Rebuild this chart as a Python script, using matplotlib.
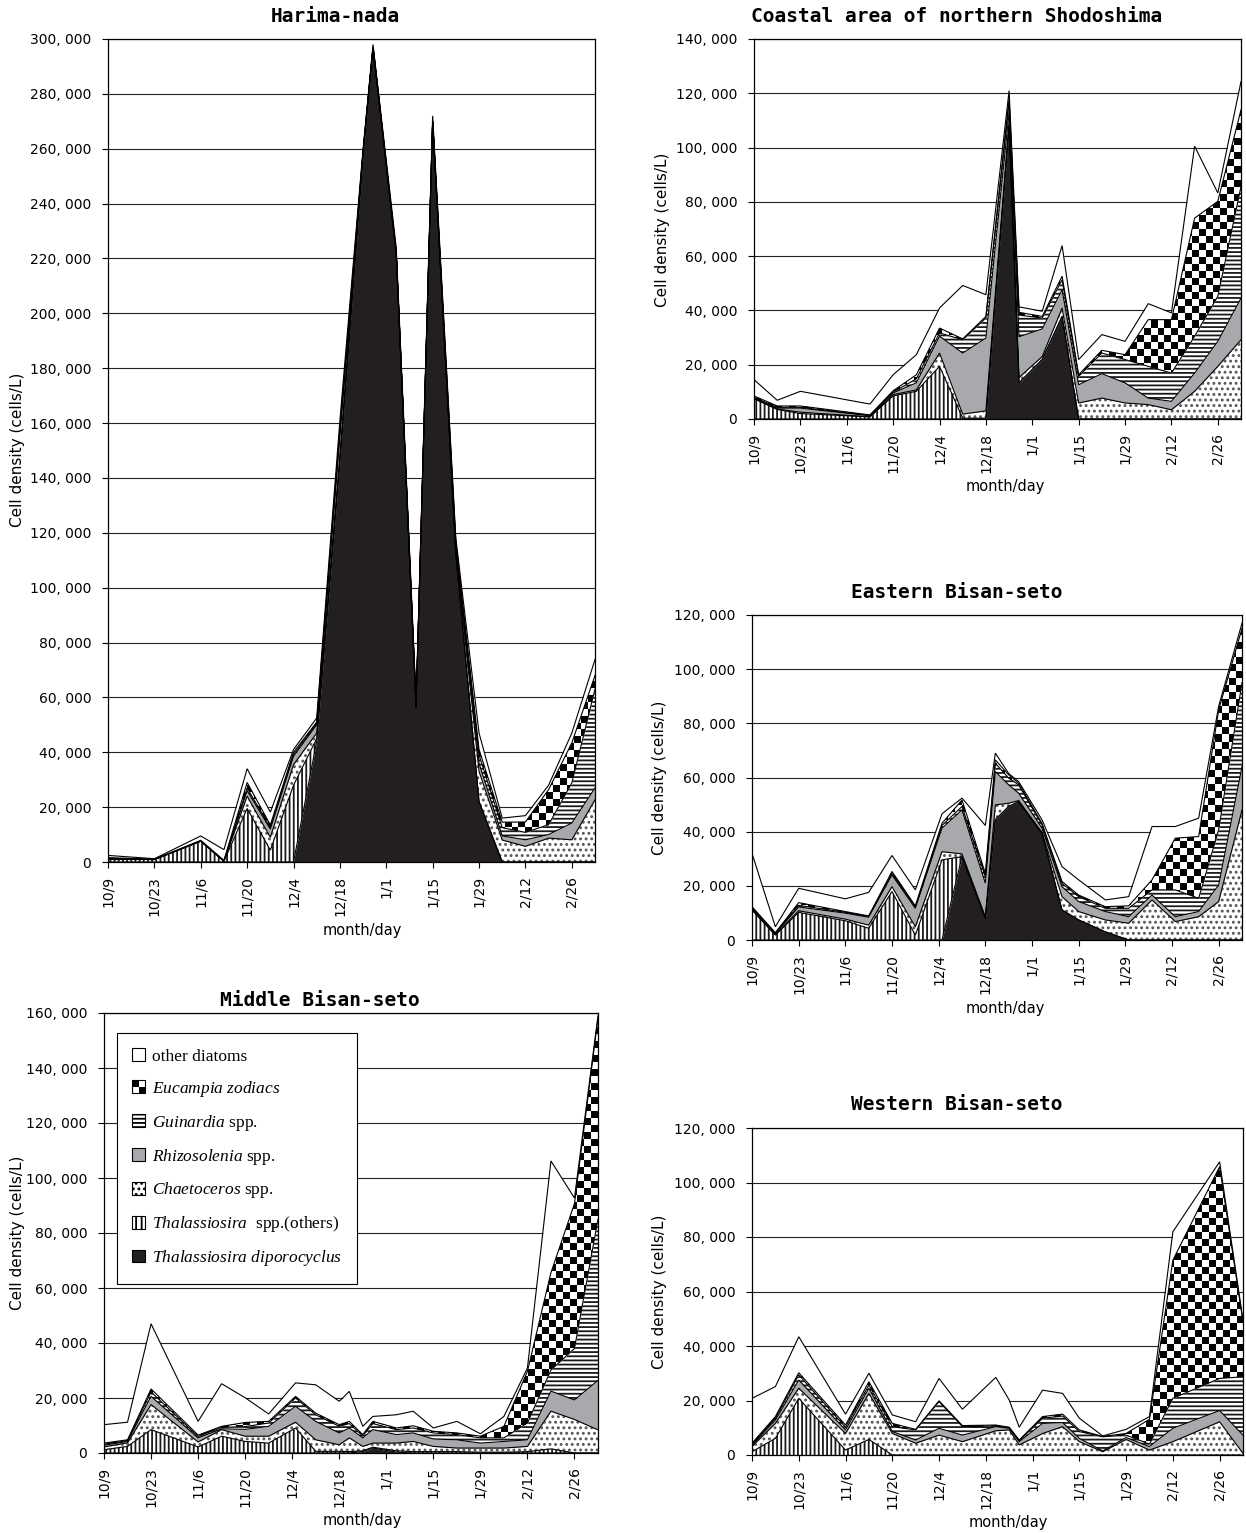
import numpy as np
import matplotlib
matplotlib.use("Agg")
import matplotlib.pyplot as plt
from matplotlib.patches import Patch, Rectangle
from matplotlib.legend_handler import HandlerBase
from matplotlib.ticker import FixedLocator, FuncFormatter

plt.rcParams["font.family"] = ["DejaVu Sans"]
plt.rcParams["hatch.linewidth"] = 1.3
plt.rcParams["mathtext.fontset"] = "custom"
plt.rcParams["mathtext.rm"] = "Liberation Serif"
plt.rcParams["mathtext.it"] = "Liberation Serif:italic"
plt.rcParams["mathtext.bf"] = "Liberation Serif:bold"

W, H = 1246, 1533

# ---------------- x axis (days after 10/9) ----------------
tick_days = [0, 14, 28, 42, 56, 70, 84, 98, 112, 126, 140]
tick_labels = ["10/9", "10/23", "11/6", "11/20", "12/4", "12/18",
               "1/1", "1/15", "1/29", "2/12", "2/26"]
x_end = 147

series_names = ["Thalassiosira diporocyclus", "Thalassiosira spp.(others)",
                "Chaetoceros spp.", "Rhizosolenia spp.", "Guinardia spp.",
                "Eucampia zodiacs", "other diatoms"]

# ---------------- data (1,000 cells/L) ----------------
# Harima-nada
days_h = [0, 14, 28, 35, 42, 49, 56, 63, 70, 77, 80, 87, 93, 98, 105, 112, 119, 126, 133, 140, 147]
tdip_h = [0, 0, 0, 0, 0, 0, 0, 44, 146, 258, 297, 222, 56, 270, 112, 22, 0, 0, 0, 0, 0]
toth_h = [0.9, 0.9, 7.6, 0.3, 19.5, 4.3, 28, 1, 0, 0, 0, 0, 0, 0, 0, 0, 0, 0, 0, 0, 0]
chae_h = [0.2, 0, 0, 0, 4.5, 4.7, 7.5, 2, 2, 1, 0, 0, 0.5, 0, 1, 11, 8, 5.7, 8.7, 8.1, 22.7]
rhiz_h = [0.1, 0, 0, 0, 2, 3, 3, 3, 7, 0, 0, 0, 0.5, 0, 1.5, 3, 1.5, 2.4, 1.3, 6.1, 4.3]
guin_h = [0.1, 0, 0, 0, 1, 0.5, 0.7, 0.5, 2, 0, 0, 0, 0, 0, 1, 3, 3, 2.7, 3.6, 14.6, 36]
euca_h = [0.3, 0.1, 0.3, 0.3, 2, 1, 0.8, 0.5, 1, 0, 0, 0, 0, 0, 1, 2, 2, 3.8, 12.8, 14.6, 5]
othr_h = [0.8, 0.2, 1.6, 3.9, 5, 4.7, 1, 1.5, 3, 1, 1, 2, 2, 2, 1.5, 6, 1.5, 2.3, 1.6, 3.6, 5.8]

# Coastal area of northern Shodoshima
days_c = [0, 7, 14, 35, 42, 49, 56, 63, 70, 77, 80, 87, 93, 98, 105, 112, 119, 126, 133, 140, 147]
tdip_c = [0, 0, 0, 0, 0, 0, 0, 0, 0, 108, 13.3, 21.9, 37.8, 0, 0, 0, 0, 0, 0, 0, 0]
toth_c = [7.5, 3.5, 2, 0.8, 8.5, 10.2, 19.4, 0.3, 0.3, 0, 0, 0, 0, 0, 0, 0, 0, 0, 0, 0, 0]
chae_c = [0, 0.2, 0.5, 0, 0.5, 0.5, 4.9, 1.5, 2.7, 1, 2, 1.1, 3.1, 5.9, 7.7, 5.9, 5.3, 3.4, 10.2, 19.4, 29.2]
rhiz_c = [0.3, 0.3, 1.5, 0.4, 0.6, 2.6, 6.2, 22.5, 26.8, 4, 15, 10.2, 6.7, 6.7, 9, 7.4, 2.4, 3.1, 6.7, 9.2, 15.3]
guin_c = [0.2, 0.3, 0.3, 0.1, 0.3, 1.5, 1.2, 4.9, 7.4, 4, 8, 4, 3.7, 3.1, 7.6, 8.6, 11.7, 10.4, 13.6, 16.6, 41.1]
euca_c = [0.5, 0.5, 0.5, 0.2, 0.5, 1.5, 1.8, 0.3, 0.6, 1, 1, 0.6, 1.3, 0.6, 1, 1.8, 17.2, 19.7, 43.5, 35, 28.3]
othr_c = [6, 2.1, 5.4, 4, 5.9, 7.4, 7.4, 19.7, 8, 3, 2, 1.9, 11.3, 5.6, 5.8, 4.9, 5.9, 2.5, 26.5, 3.1, 10.4]

# Eastern Bisan-seto
days_e = [0, 7, 14, 28, 35, 42, 49, 57, 63, 70, 73, 77, 80, 87, 93, 98, 106, 113, 120, 127, 134, 140, 147]
tdip_e = [0, 0, 0, 0, 0, 0, 0, 0, 30.8, 8, 44.4, 49.3, 51.1, 39.4, 11.1, 7.4, 3, 0, 0, 0, 0, 0, 0]
toth_e = [11, 1.8, 10.2, 7.1, 4.3, 17.9, 1.8, 29.6, 0, 0, 0, 0, 0, 0, 0, 0, 0, 0, 0, 0, 0, 0, 0]
chae_e = [0.3, 0.2, 0.6, 0.6, 1.2, 1.8, 3.1, 3, 1, 0.6, 5.5, 1.2, 0.4, 0.3, 4.9, 3.1, 4.4, 6.2, 14.8, 6.8, 8.6, 14.2, 48]
rhiz_e = [0.3, 0.3, 1.4, 2.2, 2.9, 4.3, 6.8, 8.7, 16.2, 12.4, 12.3, 6.8, 2.7, 1.6, 3.7, 3.7, 3.1, 2.4, 1.8, 1.8, 1.9, 6.1, 16]
guin_e = [0.3, 0.2, 0.6, 0.3, 0.3, 0.6, 0.5, 1, 1.3, 2.4, 3.1, 2.5, 3.1, 1.2, 1.2, 1.8, 1.2, 3.1, 1.9, 9.9, 4.9, 20.4, 31]
euca_e = [0.4, 0.2, 1, 0.3, 0.2, 0.7, 0.4, 0.8, 2.4, 1.2, 1.2, 1.2, 0.6, 0.6, 0.7, 0.6, 0.6, 0.9, 3.7, 19.1, 22.8, 44.3, 20]
othr_e = [19.7, 2.2, 5.3, 4.7, 8.7, 5.9, 5.9, 3.5, 0.7, 17.7, 2.5, 0.5, 0.6, 1.3, 5.5, 5.6, 2.5, 3.4, 19.7, 4.3, 6.8, 1.3, 2]

# Middle Bisan-seto
days_m = [0, 7, 14, 28, 35, 42, 49, 57, 63, 70, 73, 77, 80, 87, 92, 98, 105, 112, 119, 126, 133, 140, 147]
tdip_m = [0, 0, 0, 0, 0, 0, 0, 0, 0, 0, 0, 0.5, 1.8, 0.3, 0, 0, 0, 0, 0, 0, 0, 0, 0]
toth_m = [1.2, 2.4, 8.5, 2.2, 6.1, 4.2, 3.6, 9.1, 0.6, 0.6, 0.5, 0.3, 0.3, 0.5, 0.5, 0.5, 0.5, 0.3, 0.3, 0.5, 1.5, 0, 0]
chae_m = [1, 1.3, 9.1, 1.8, 2.4, 1.9, 2.5, 2.1, 4.2, 2.4, 5, 1.6, 1.5, 2.8, 3.7, 1.9, 1.3, 1.5, 1.5, 1.9, 13.7, 12.2, 8.4]
rhiz_m = [0.6, 0.5, 3, 1.5, 0.3, 2.5, 3.6, 5.8, 6.7, 4.3, 3.6, 3.1, 4.9, 3.1, 3.1, 2.7, 3, 1.8, 2.4, 2.4, 7.3, 7.1, 18]
guin_m = [0.4, 0.3, 1.6, 0.5, 0.5, 1, 1.2, 3, 2.4, 2.4, 1.6, 0.7, 2.2, 1.8, 1.8, 2.2, 1.9, 1.9, 1.3, 6.1, 7.7, 18.7, 58.6]
euca_m = [0.4, 0.3, 1.1, 0.5, 0.4, 1.5, 0.6, 0.6, 0.6, 0.6, 0.8, 0.5, 0.8, 0.6, 0.8, 0.6, 0.6, 0.6, 4.2, 18.8, 35.4, 52.7, 73.3]
othr_m = [6.7, 6.4, 23.7, 5, 15.5, 9, 2.7, 4.9, 10.3, 8.5, 10.9, 3, 1.8, 4.8, 5.3, 1.2, 4.2, 0.9, 3.6, 1.2, 40.6, 2, 0.7]

# Western Bisan-seto
days_w = [0, 7, 14, 28, 35, 42, 49, 56, 63, 73, 77, 80, 87, 93, 98, 105, 112, 119, 126, 140, 147]
tdip_w = [0, 0, 0, 0, 0, 0, 0, 0, 0, 0, 0, 0, 0, 0, 0, 0, 0, 0, 0, 0, 0]
toth_w = [1.2, 6.1, 20.8, 1.8, 5.7, 0, 0, 0, 0, 0, 0, 0, 0, 0, 0, 0, 0, 0, 0, 0, 0]
chae_w = [1.9, 5.5, 3.7, 6.1, 16.9, 7.9, 4.3, 7.3, 4.9, 8.9, 9.2, 3.7, 7.9, 10.4, 4.9, 1.2, 5.7, 1.8, 4.9, 12.2, 0.6]
rhiz_w = [0.4, 1.2, 3, 1.3, 1.9, 0.7, 1.2, 2.5, 2.4, 1.5, 0.6, 1.2, 3.7, 1.5, 1.2, 0.3, 0.7, 1.3, 4.9, 4.1, 6.7]
guin_w = [0.3, 0.6, 1.9, 1, 1.2, 1.8, 3.7, 9.8, 3.1, 0.2, 0.2, 0.3, 1.9, 2.4, 2.5, 5.2, 0.9, 0.9, 11, 11.8, 21.4]
euca_w = [0.5, 0.7, 0.8, 0.8, 1.2, 1.2, 0.2, 0.3, 0.4, 0.4, 0.2, 0.3, 0.6, 0.7, 0.6, 0.1, 0.6, 9.1, 50.7, 77.7, 20.2]
othr_w = [16.5, 11, 13.2, 4, 3.1, 3.1, 2.8, 8.2, 6, 17.5, 10, 4.7, 9.7, 7.6, 4.3, 0.2, 1.5, 1, 10.4, 1.8, 0.6]

# ---------------- styles ----------------
styles = [
    dict(fc="#231f20", hatch=None, hc="#231f20"),
    dict(fc="white", hatch="||||", hc="#1a1a1a"),
    dict(fc="white", hatch="...", hc="#555555"),
    dict(fc="#a7a9ac", hatch=None, hc="#a7a9ac"),
    dict(fc="white", hatch="----", hc="#1a1a1a"),
    dict(fc="white", hatch=None, hc="white", checker=True),
    dict(fc="white", hatch=None, hc="white"),
]
CHECK = 7.0  # checker square size in px

fig = plt.figure(figsize=(W / 100, H / 100), dpi=100)


def rect(l, t, r, b):
    return [l / W, 1 - b / H, (r - l) / W, (b - t) / H]


def fmt(v, pos):
    v = int(round(v))
    return "0" if v == 0 else f"{v:,}".replace(",", ", ")


def add_checker(ax, poly, ymax):
    bb = ax.get_position()
    nx = int(round(bb.width * W / CHECK))
    ny = int(round(bb.height * H / CHECK))
    arr = (np.add.outer(np.arange(ny), np.arange(nx)) % 2).astype(float)
    im = ax.imshow(arr, cmap="gray", vmin=0, vmax=1,
                   extent=[0, x_end, 0, ymax], origin="lower",
                   aspect="auto", interpolation="nearest", zorder=2.5)
    im.set_clip_path(poly.get_paths()[0], transform=ax.transData)


def draw_panel(box, title, title_xy, ylab_xy, xlab_xy, days, layers, ymax):
    ax = fig.add_axes(rect(*box))
    x = np.array(days, float)
    base = np.zeros_like(x)
    tops = []
    for vals, st in zip(layers, styles):
        top = base + np.array(vals, float) * 1000
        poly = ax.fill_between(x, base, top, facecolor=st["fc"], hatch=st["hatch"],
                               edgecolor=st["hc"], linewidth=0, zorder=2)
        if st.get("checker"):
            add_checker(ax, poly, ymax)
        tops.append(top)
        base = top
    for top in tops:
        ax.plot(x, top, color="black", lw=0.8, zorder=4, solid_joinstyle="miter")
    ax.set_xlim(0, x_end)
    ax.set_ylim(0, ymax)
    ax.yaxis.set_major_locator(FixedLocator(np.arange(0, ymax + 1, 20000)))
    ax.yaxis.set_major_formatter(FuncFormatter(fmt))
    ax.set_xticks(tick_days)
    ax.set_xticklabels(tick_labels, rotation=90)
    ax.set_axisbelow(True)
    ax.yaxis.grid(True, color="#222222", lw=0.8, zorder=0)
    for s in ax.spines.values():
        s.set_linewidth(0.9)
        s.set_color("black")
        s.set_zorder(5)
    ax.tick_params(axis="both", direction="out", length=4, width=0.8,
                   labelsize=10, pad=6, colors="black")
    ax.tick_params(axis="y", pad=8)
    fig.text(title_xy[0] / W, 1 - title_xy[1] / H, title, ha="center", va="center",
             fontsize=14, fontweight="bold", family="DejaVu Sans Mono")
    fig.text(ylab_xy[0] / W, 1 - ylab_xy[1] / H, "Cell density (cells/L)",
             rotation=90, ha="center", va="center", fontsize=11)
    fig.text(xlab_xy[0] / W, 1 - xlab_xy[1] / H, "month/day",
             ha="center", va="center", fontsize=10.5)
    return ax


draw_panel((108, 39, 595, 862), "Harima-nada", (335, 17), (18, 450), (362, 930),
           days_h, [tdip_h, toth_h, chae_h, rhiz_h, guin_h, euca_h, othr_h], 300000)
draw_panel((754, 39, 1241, 419), "Coastal area of northern Shodoshima", (957, 17), (663, 230), (1005, 487),
           days_c, [tdip_c, toth_c, chae_c, rhiz_c, guin_c, euca_c, othr_c], 140000)
draw_panel((752, 615, 1242, 940), "Eastern Bisan-seto", (957, 592), (660, 778), (1005, 1008),
           days_e, [tdip_e, toth_e, chae_e, rhiz_e, guin_e, euca_e, othr_e], 120000)
ax_m = draw_panel((104, 1013, 598, 1453), "Middle Bisan-seto", (320, 1001), (18, 1233), (362, 1520),
                  days_m, [tdip_m, toth_m, chae_m, rhiz_m, guin_m, euca_m, othr_m], 160000)
draw_panel((752, 1128, 1243, 1455), "Western Bisan-seto", (957, 1105), (660, 1292), (1008, 1522),
           days_w, [tdip_w, toth_w, chae_w, rhiz_w, guin_w, euca_w, othr_w], 120000)


# ---------------- legend ----------------
class CheckerHandler(HandlerBase):
    def create_artists(self, legend, orig_handle, xdescent, ydescent, width, height, fontsize, trans):
        arts = []
        w, h = width / 2, height / 2
        for i in range(2):
            for j in range(2):
                c = "black" if (i + j) % 2 == 1 else "white"
                arts.append(Rectangle((-xdescent + i * w, -ydescent + j * h), w, h,
                                      facecolor=c, edgecolor="none", transform=trans))
        arts.append(Rectangle((-xdescent, -ydescent), width, height, facecolor="none",
                              edgecolor="black", lw=0.8, transform=trans))
        return arts


class CheckerPatch(Patch):
    pass


handles = [
    Patch(facecolor="white", edgecolor="black", lw=0.8),
    CheckerPatch(facecolor="white", edgecolor="black"),
    Patch(facecolor="white", edgecolor="black", hatch="----", lw=0.8),
    Patch(facecolor="#a7a9ac", edgecolor="black", lw=0.8),
    Patch(facecolor="white", edgecolor="black", hatch="...", lw=0.8),
    Patch(facecolor="white", edgecolor="black", hatch="|||", lw=0.8),
    Patch(facecolor="#231f20", edgecolor="black", lw=0.8),
]
labels = [
    "other diatoms",
    r"$\it{Eucampia\ zodiacs}$",
    r"$\it{Guinardia}$ spp.",
    r"$\it{Rhizosolenia}$ spp.",
    r"$\it{Chaetoceros}$ spp.",
    r"$\it{Thalassiosira}$  spp.(others)",
    r"$\it{Thalassiosira\ diporocyclus}$",
]
leg = ax_m.legend(handles, labels, loc="upper left", bbox_to_anchor=(0.026, 0.955),
                  borderaxespad=0, frameon=True, fancybox=False, framealpha=1,
                  edgecolor="black", prop={"family": "Liberation Serif", "size": 12.5},
                  handlelength=0.75, handleheight=0.75, handletextpad=0.35,
                  labelspacing=0.8, borderpad=0.9,
                  handler_map={CheckerPatch: CheckerHandler()})
leg.get_frame().set_linewidth(0.8)
leg.set_zorder(10)

fig.savefig("out.png", dpi=100)
